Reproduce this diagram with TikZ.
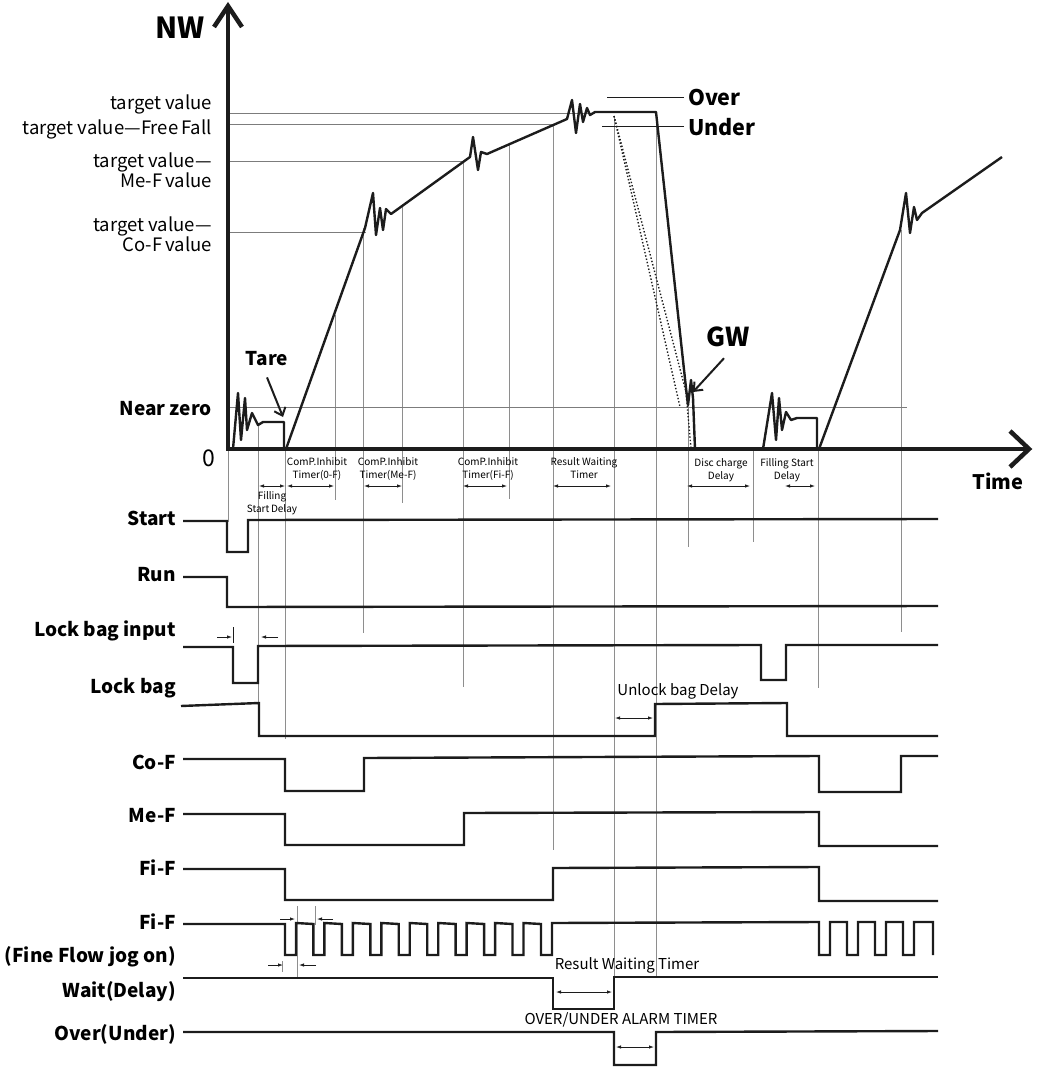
\documentclass[tikz,border=0pt]{standalone}
\usepackage{fontspec}
\setmainfont{Noto Sans CJK SC}
\usetikzlibrary{arrows.meta}
\definecolor{ink}      {HTML}{1C1C1C}
\definecolor{guidegray}{HTML}{8E8E8E}
\definecolor{levelgray}{HTML}{7C7C7C}
\newcommand\sigfont{\bfseries\fontsize{19}{22}\selectfont}
\newcommand\lvlfont{\fontsize{18.5}{19}\selectfont}
\newcommand\timfont{\fontsize{10}{13}\selectfont}
\newcommand\midfont{\fontsize{15}{17}\selectfont}
\tikzset{
  sig/.style={ink, line width=2.4pt, line join=miter},
  wcurve/.style={ink, line width=2.4pt, line join=round},
  axisline/.style={ink, line width=4.5pt, line join=miter, line cap=butt},
  guide/.style={guidegray, line width=0.7pt},
  level/.style={levelgray, line width=0.7pt},
  span/.style={ink, line width=0.8pt, {Latex[length=5pt,width=3.5pt]}-{Latex[length=5pt,width=3.5pt]}},
  tick/.style={ink, line width=0.8pt, -{Latex[length=5pt,width=3.5pt]}},
  callout/.style={ink, line width=2pt, -{Straight Barb[length=7pt,width=12pt]}},
  siglabel/.style={font=\sigfont, anchor=east, inner sep=0pt},
  lvllabel/.style={font=\lvlfont, anchor=east, align=right, inner sep=0pt},
  timlabel/.style={font=\timfont, align=center, inner sep=0pt},
  bigtag/.style={font=\bfseries\fontsize{21.5}{24}\selectfont, inner sep=0pt},
}
\begin{document}
\begin{tikzpicture}[x=1pt, y=-1pt]
  \useasboundingbox (0,0) rectangle (1037,1067);
  % guides
  \foreach \x/\a/\b in {228/449/522, 258/425/737, 285/449/739, 335/315/500,
      363/228/633, 402/206/503, 463/162/687, 509/144/499, 553/125/850,
      614/117/978, 656/112/978, 688/400/547, 753/449/542, 818/449/688, 901/230/632}
    \draw[guide] (\x,\a) -- (\x,\b);
  \draw[guide] (297,906) -- (297,978);
  \draw[guide] (315,906) -- (315,925);
  \draw[guide] (282,961) -- (282,972);
  % reference levels
  \foreach \y/\e in {113/595, 124/556, 161/464, 232/366, 407/907}
    \draw[level] (228,\y) -- (\e,\y);
  \node[lvllabel] (lvT)  at (212,104) {target value};
  \node[lvllabel] (lvFF) at (212,129) {target value—Free\,Fall};
  \node[lvllabel] (lvMe) at (212,170) {target value—\\Me-F\,value};
  \node[lvllabel] (lvCo) at (212,234) {target value—\\Co-F\,value};
  \node[siglabel] (lvNZ) at (212,409) {Near zero};
  % weight curve
  \draw[wcurve] (233,449) -- (238,393) -- (241,440) -- (245,398) -- (247,430)
    -- (252,413) -- (258,425) -- (263,422) -- (284,422) -- (284,449);
  \draw[wcurve] (286,449) -- (365,228) -- (373,193) -- (376,235) -- (380,208)
    -- (383,230) -- (386,209) -- (391,214) -- (470,157) -- (473,137) -- (478,170)
    -- (481,152) -- (487,154) -- (567,119) -- (572,100) -- (576,133) -- (580,104)
    -- (583,122) -- (587,108) -- (590,115) -- (595,112) -- (656,112) -- (686,388)
    -- (688,405) -- (691,380) -- (693,398) -- (695,449);
  \draw[ink, line width=1.4pt, dotted] (614,116) -- (680,407);
  \draw[ink, line width=1.4pt, dotted] (614,116) -- (686,392) -- (691,449);
  \draw[wcurve] (763,449) -- (772,393) -- (776,440) -- (779,398) -- (782,430)
    -- (786,412) -- (791,420) -- (797,418) -- (817,418) -- (817,449);
  \draw[wcurve] (819,449) -- (900,230) -- (906,193) -- (910,233) -- (914,207)
    -- (917,220) -- (922,213) -- (1002,157);
  % axes
  \draw[axisline] (228,449) -- (228,8);
  \draw[axisline] (214,27) -- (228,6) -- (242,27);
  \draw[axisline] (226,449) -- (1027,449);
  \draw[axisline] (1010,431) -- (1029,449) -- (1010,467);
  \node[font=\bfseries\fontsize{29}{32}\selectfont, inner sep=0pt] (nw) at (180,28) {NW};
  \node[font=\fontsize{23}{26}\selectfont, inner sep=0pt] (zero) at (209,458) {0};
  \node[font=\bfseries\fontsize{20}{24}\selectfont, inner sep=0pt] (time) at (998,481) {Time};
  % over / under
  \node[bigtag, anchor=west, inner sep=4pt] (over) at (684,98) {Over};
  \node[bigtag, anchor=west, inner sep=4pt] (under) at (684,127) {Under};
  \draw[ink, line width=1pt] (over.west) -- ++(-77,0);
  \draw[ink, line width=1pt] (under.west) -- ++(-82,0);
  % callouts
  \node[font=\sigfont, inner sep=0pt] (tare) at (267,359) {Tare};
  \coordinate (tareTip) at (283,417);
  \draw[callout] ([yshift=-11pt]tare.south) -- (tareTip);
  \node[font=\bfseries\fontsize{26}{28}\selectfont, inner sep=0pt] (gw) at (728,337) {GW};
  \coordinate (gwTip) at (693,392);
  \draw[callout] ([shift={(-4pt,-11pt)}]gw.south) -- (gwTip);
  % timers under the axis
  \node[timlabel] (tm0) at (317,468.5) {ComP.Inhibit\\Timer(0-F)};
  \node[timlabel] (tm1) at (388,468.5) {ComP.Inhibit\\Timer(Me-F)};
  \node[timlabel] (tm2) at (488,468.5) {ComP.Inhibit\\Timer(Fi-F)};
  \node[timlabel] (tm3) at (584,468.5) {Result Waiting\\Timer};
  \node[timlabel] (tm4) at (721,470) {Disc charge\\Delay};
  \node[timlabel] (tm5) at (787,470) {Filling Start\\Delay};
  \node[timlabel] (tm6) at (272,503) {Filling\\Start\,Delay};
  \foreach \a/\b in {259/285, 287/334, 364/402, 463/507, 553/611, 687/750, 785/815}
    \draw[span] (\a,486) -- (\b,486);
  % signal names
  \node[siglabel] (sStart) at (176,518) {Start};
  \node[siglabel] (sRun)   at (176,575) {Run};
  \node[siglabel] (sLbi)   at (176,631) {Lock bag input};
  \node[siglabel] (sLb)    at (176,688) {Lock bag};
  \node[siglabel] (sCo)    at (176,762) {Co-F};
  \node[siglabel] (sMe)    at (176,816) {Me-F};
  \node[siglabel] (sFi)    at (176,868) {Fi-F};
  \node[siglabel] (sJog)   at (176,922) {Fi-F};
  \node[siglabel] (sJog2)  at (176,957) {(Fine Flow jog on)};
  \node[siglabel] (sWait)  at (176,992) {Wait(Delay)};
  \node[siglabel] (sOver)  at (176,1034) {Over(Under)};
  % waveforms
  \draw[sig] (183,521) -- (227,521) -- (227,552) -- (248,552) -- (248,520) -- (938,519);
  \draw[sig] (183,577) -- (227,577) -- (227,607) -- (938,606);
  \draw[sig] (183,647) -- (233,647) -- (233,683) -- (258,683) -- (258,646) -- (761,645)
    -- (761,680) -- (786,680) -- (786,645) -- (938,645);
  \draw[sig] (181,706) -- (259,703) -- (259,736) -- (655,736) -- (655,704) -- (787,703)
    -- (787,736) -- (938,736);
  \draw[sig] (183,759) -- (285,759) -- (285,791) -- (364,791) -- (364,758) -- (819,756)
    -- (819,792) -- (901,792) -- (901,756) -- (938,756);
  \draw[sig] (183,814) -- (285,814) -- (285,845) -- (464,845) -- (464,813) -- (819,812)
    -- (819,846) -- (938,846);
  \draw[sig] (183,869) -- (285,869) -- (285,900) -- (553,900) -- (553,868) -- (819,867)
    -- (819,901) -- (938,901);
  \draw[sig] (183,924)
    \foreach \k in {0,...,9} { -- ({285+28.44*\k},924) -- ({285+28.44*\k},955)
      -- ({296+28.44*\k},955) -- ({296+28.44*\k},923) }
    \foreach \k in {0,...,3} { -- ({819+28*\k},922) -- ({819+28*\k},955)
      -- ({830+28*\k},955) -- ({830+28*\k},922) }
    -- (933,922) -- (933,955);
  \draw[sig] (183,978) -- (553,978) -- (553,1009) -- (614,1009) -- (614,977) -- (938,977);
  \draw[sig] (183,1032) -- (614,1032) -- (614,1065) -- (656,1065) -- (656,1032) -- (938,1031);
  % small delay marks
  \draw[ink, line width=0.9pt] (233,627) -- (233,643);
  \draw[tick] (217,637) -- (232,637);
  \draw[tick] (278,637) -- (261,637);
  \draw[tick] (280,919) -- (295,919);
  \draw[tick] (333,919) -- (317,919);
  \draw[tick] (268,965) -- (283,965);
  \draw[tick] (316,965) -- (299,965);
  \node[font=\midfont, inner sep=0pt] (unlock) at (678,691) {Unlock bag Delay};
  \draw[span] (615,718) -- (653,718);
  \node[font=\midfont, inner sep=0pt] (rwt) at (627,965) {Result Waiting Timer};
  \draw[span] (556,992) -- (612,992);
  \node[font=\midfont, inner sep=0pt] (alarm) at (621,1020) {OVER/UNDER ALARM TIMER};
  \draw[span] (616,1047) -- (654,1047);
\end{tikzpicture}
\end{document}
